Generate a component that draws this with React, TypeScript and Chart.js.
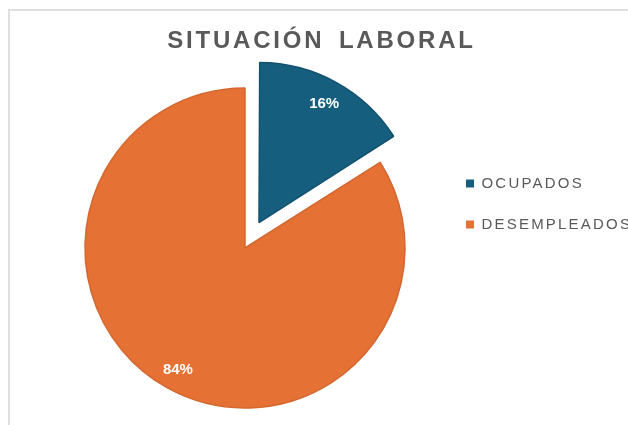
import React, { useEffect, useRef } from 'react';
import { Chart, registerables } from 'chart.js';

Chart.register(...registerables);

// ---- data ----
const CATEGORIES = ['OCUPADOS', 'DESEMPLEADOS'];
const VALUES = [16, 84];
const TITLE = 'SITUACIÓN LABORAL';

// ---- styles ----
const COLORS = ['#165E7D', '#E67134'];
const BORDER_COLORS = ['#125270', '#D3672F'];
const OFFSETS = [116, 0]; // Chart.js 4 translates an arc by offset / 4
const FONT = '"Liberation Sans", Arial, Helvetica, sans-serif';
const TEXT_GRAY = '#595959';
const LABEL_POS = 0.87;

function wrapSpacing(chart: any, box: any, letter: string, word: string, noClip: boolean) {
  if (!box || box.__spaced) return;
  const orig = box.draw.bind(box);
  box.draw = (...args: any[]) => {
    const ctx: any = chart.ctx;
    ctx.save();
    ctx.letterSpacing = letter;
    ctx.wordSpacing = word;
    if (noClip && typeof box._draw === 'function') {
      box._draw();
    } else {
      orig(...args);
    }
    ctx.restore();
  };
  box.__spaced = true;
}

const spacingPlugin = {
  id: 'textSpacing',
  beforeDraw(chart: any) {
    wrapSpacing(chart, chart.titleBlock, '2.8px', '5px', false);
    // legend text runs past the window edge in the reference, so draw it unclipped
    wrapSpacing(chart, chart.legend, '2.2px', '0px', true);
  },
};

// keep an exploded slice at the same radius as the others
const explodeRadiusPlugin = {
  id: 'explodeRadius',
  afterDatasetUpdate(chart: any, args: any) {
    const meta = args.meta;
    meta.data.forEach((arc: any) => {
      const off = ((arc.options && arc.options.offset) || 0) / 4;
      if (!off) return;
      const c = arc.circumference || 0;
      const growth = off * (1 - Math.sin(Math.min(Math.PI, c)));
      arc.outerRadius = arc.outerRadius - growth;
    });
  },
};

const sliceLabelPlugin = {
  id: 'sliceLabels',
  afterDatasetsDraw(chart: any) {
    const ctx: any = chart.ctx;
    const meta = chart.getDatasetMeta(0);
    const data = chart.data.datasets[0].data as number[];
    const total = data.reduce((a, b) => a + b, 0);
    ctx.save();
    ctx.letterSpacing = '0px';
    ctx.font = `bold 15px ${FONT}`;
    ctx.fillStyle = '#ffffff';
    ctx.textAlign = 'center';
    ctx.textBaseline = 'middle';
    meta.data.forEach((arc: any, i: number) => {
      const p = arc.getProps(['x', 'y', 'startAngle', 'endAngle', 'outerRadius'], true);
      const shift = (arc.options.offset || 0) / 4;
      const mid = (p.startAngle + p.endAngle) / 2;
      const d = shift + p.outerRadius * LABEL_POS;
      const txt = Math.round((data[i] / total) * 100) + '%';
      ctx.fillText(txt, p.x + Math.cos(mid) * d, p.y + Math.sin(mid) * d);
    });
    ctx.restore();
  },
};

export default function App() {
  const canvasRef = useRef<HTMLCanvasElement | null>(null);

  useEffect(() => {
    document.body.style.margin = '0';
    document.body.style.overflow = 'hidden';
    const canvas = canvasRef.current;
    if (!canvas) return;
    const chart = new Chart(canvas, {
      type: 'pie',
      data: {
        labels: CATEGORIES,
        datasets: [
          {
            data: VALUES,
            backgroundColor: COLORS,
            borderColor: BORDER_COLORS,
            borderWidth: 1.5,
            offset: OFFSETS,
            hoverOffset: 0,
          },
        ],
      },
      options: {
        responsive: false,
        devicePixelRatio: 1,
        animation: false,
        events: [],
        radius: 160,
        layout: { padding: { left: 50, right: 87, top: 0, bottom: 1.5 } },
        plugins: {
          tooltip: { enabled: false },
          title: {
            display: true,
            text: TITLE,
            color: TEXT_GRAY,
            font: { family: FONT, size: 24, weight: 'bold', lineHeight: 1.2 },
            padding: { top: 27, bottom: 16.7 },
          },
          legend: {
            display: true,
            position: 'right',
            align: 'start',
            maxWidth: 153,
            title: {
              display: true,
              text: '',
              font: { size: 10, lineHeight: 1 },
              padding: { top: 140, bottom: 0 },
            },
            labels: {
              boxWidth: 8,
              boxHeight: 8,
              padding: 26,
              color: TEXT_GRAY,
              font: { family: FONT, size: 15 },
              generateLabels: (c: any) => {
                const ov: any = (Chart as any).overrides;
                const base =
                  (ov.pie && ov.pie.plugins && ov.pie.plugins.legend && ov.pie.plugins.legend.labels.generateLabels) ||
                  ov.doughnut.plugins.legend.labels.generateLabels;
                return base(c).map((l: any) => ({ ...l, lineWidth: 0 }));
              },
            },
          },
        },
      } as any,
      plugins: [spacingPlugin, explodeRadiusPlugin, sliceLabelPlugin],
    });
    return () => chart.destroy();
  }, []);

  return (
    <div style={{ position: 'relative', width: 628, height: 425, overflow: 'hidden', background: '#ffffff' }}>
      <div
        style={{
          position: 'absolute',
          left: 8,
          top: 9,
          width: 2000,
          height: 2000,
          borderLeft: '2px solid #e0e0e0',
          borderTop: '2px solid #e0e0e0',
        }}
      />
      <canvas
        ref={canvasRef}
        width={680}
        height={425}
        style={{ position: 'absolute', left: 0, top: 0, width: 680, height: 425, display: 'block' }}
      />
    </div>
  );
}
